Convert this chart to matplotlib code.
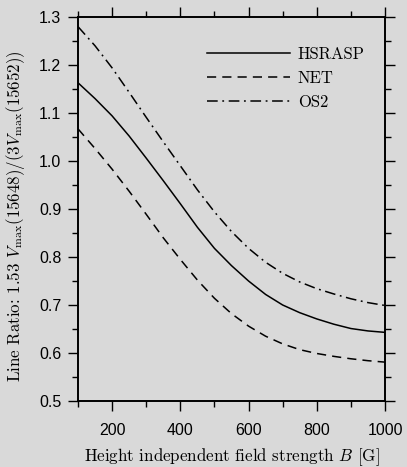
import matplotlib
matplotlib.use("Agg")
import matplotlib.pyplot as plt
from matplotlib.ticker import MultipleLocator

B = [100, 150, 200, 250, 300, 350, 400, 450, 500, 550, 600, 650, 700, 750, 800, 850, 900, 950, 1000]
hsrasp = [1.163, 1.130, 1.094, 1.052, 1.006, 0.959, 0.911, 0.862, 0.818, 0.782, 0.750, 0.722, 0.700,
          0.684, 0.671, 0.660, 0.651, 0.646, 0.643]
net = [1.067, 1.026, 0.983, 0.937, 0.889, 0.840, 0.795, 0.752, 0.714, 0.682, 0.656, 0.635, 0.619,
       0.607, 0.599, 0.593, 0.588, 0.584, 0.581]
os2 = [1.280, 1.240, 1.194, 1.143, 1.091, 1.040, 0.990, 0.940, 0.894, 0.853, 0.818, 0.789, 0.766,
       0.748, 0.734, 0.723, 0.713, 0.705, 0.699]
labels = ["HSRASP", "NET", "OS2"]
xticks = [200, 400, 600, 800, 1000]
yticks = [0.5, 0.6, 0.7, 0.8, 0.9, 1.0, 1.1, 1.2, 1.3]

plt.rcParams['mathtext.fontset'] = 'cm'
plt.rcParams['axes.unicode_minus'] = False

bg = '#d9d9d9'
fig = plt.figure(figsize=(4.07, 4.67), dpi=100, facecolor=bg)
ax = fig.add_axes([0.1916, 0.1413, 0.7544, 0.8223])
ax.set_facecolor(bg)

ax.plot(B, hsrasp, color='black', lw=1.1, ls='-', label=labels[0])
ax.plot(B, net, color='black', lw=1.1, ls=(0, (6, 4)), label=labels[1])
ax.plot(B, os2, color='black', lw=1.1, ls=(0, (7, 3, 1.2, 3)), label=labels[2])

ax.set_xlim(100, 1000)
ax.set_ylim(0.5, 1.3)
ax.set_xticks(xticks)
ax.set_yticks(yticks)
ax.set_yticklabels([f"{v:.1f}" for v in yticks])
ax.xaxis.set_minor_locator(MultipleLocator(100))
ax.yaxis.set_minor_locator(MultipleLocator(0.05))
ax.tick_params(which='both', direction='out', top=True, right=True, width=1.0)
ax.tick_params(which='major', length=7, labelsize=11.5, pad=5)
ax.tick_params(which='minor', length=4)
ax.tick_params(axis='x', which='major', labeltop=False, pad=9)
for lab in ax.get_xticklabels() + ax.get_yticklabels():
    lab.set_fontfamily('Liberation Sans')
for s in ax.spines.values():
    s.set_linewidth(1.4)

ax.set_xlabel(r"Height independent field strength $B$ [G]", fontfamily='cmr10', fontsize=12.2, labelpad=6)
ax.set_ylabel(r"Line Ratio: 1.53 $V_{\rm max}(15648)/(3V_{\rm max}(15652))$", fontfamily='cmr10',
              fontsize=12.2, labelpad=4)
ax.yaxis.set_label_coords(-0.165, 0.482)

leg = ax.legend(loc='upper left', bbox_to_anchor=(0.42, 0.922), frameon=False, borderpad=0,
                borderaxespad=0, prop={'family': 'cmr10', 'size': 12}, handlelength=5.0,
                handletextpad=0.45, labelspacing=0.5)

fig.savefig("out.png", dpi=100, facecolor=bg)
